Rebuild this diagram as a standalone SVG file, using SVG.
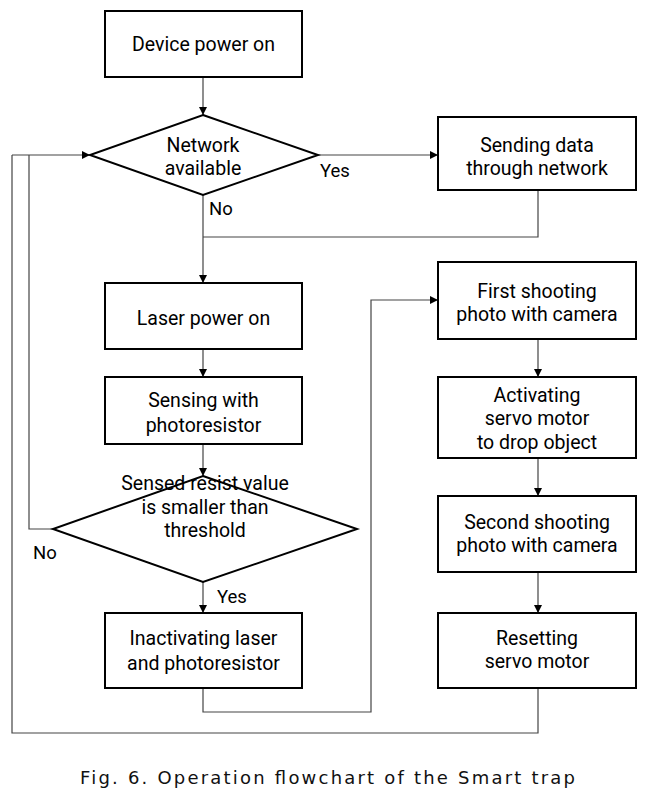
<svg xmlns="http://www.w3.org/2000/svg" width="655" height="794" viewBox="0 0 655 794">
<defs>
<style>
.box{fill:#fff;stroke:#000;stroke-width:2}
.t{font-family:Roboto,"Noto Sans CJK KR",sans-serif;font-size:19.5px;fill:#000;text-anchor:middle}
.lbl{font-family:Roboto,"Noto Sans CJK KR",sans-serif;font-size:18.5px;fill:#000}
.c{fill:none;stroke:#444;stroke-width:1.2}
.cap{font-family:"DejaVu Sans",sans-serif;font-size:18px;fill:#111}
</style>
<marker id="ar" viewBox="0 0 10 10" refX="10" refY="5" markerWidth="8" markerHeight="8" markerUnits="userSpaceOnUse" orient="auto">
<path d="M0,0 L10,5 L0,10 z" fill="#000"/>
</marker>
</defs>
<rect width="655" height="794" fill="#fff"/>
<g id="connectors">
<path class="c" d="M203,77 V115" marker-end="url(#ar)"/>
<path class="c" d="M318,155 H438" marker-end="url(#ar)"/>
<path class="c" d="M203,195 V283" marker-end="url(#ar)"/>
<path class="c" d="M538,190 V237 H203"/>
<path class="c" d="M203,349 V377" marker-end="url(#ar)"/>
<path class="c" d="M203,444 V476" marker-end="url(#ar)"/>
<path class="c" d="M53,529 H29 V155"/>
<path class="c" d="M12,155 H90" marker-end="url(#ar)"/>
<path class="c" d="M203,582 V613" marker-end="url(#ar)"/>
<path class="c" d="M203,688 V712 H371 V300 H438" marker-end="url(#ar)"/>
<path class="c" d="M538,339 V377" marker-end="url(#ar)"/>
<path class="c" d="M538,458 V496" marker-end="url(#ar)"/>
<path class="c" d="M538,572 V613" marker-end="url(#ar)"/>
<path class="c" d="M538,688 V733 H12 V155"/>
<text class="lbl" x="320" y="177">Yes</text>
<text class="lbl" x="209" y="215">No</text>
<text class="lbl" x="33" y="559">No</text>
<text class="lbl" x="217" y="603">Yes</text>
</g>
<g id="n1"><rect class="box" x="105" y="11" width="197" height="66"/><text class="t" x="203.5" y="51">Device power on</text></g>
<g id="n2"><polygon class="box" points="203,115 318,155 203,195 90,155"/><text class="t" x="203" y="152">Network</text><text class="t" x="203" y="175">available</text></g>
<g id="n3"><rect class="box" x="438" y="117" width="198" height="73"/><text class="t" x="537" y="152">Sending data</text><text class="t" x="537" y="175">through network</text></g>
<g id="n4"><rect class="box" x="105" y="283" width="197" height="66"/><text class="t" x="203.5" y="325">Laser power on</text></g>
<g id="n5"><rect class="box" x="105" y="377" width="197" height="67"/><text class="t" x="203.5" y="407">Sensing with</text><text class="t" x="203.5" y="432">photoresistor</text></g>
<g id="n6"><polygon class="box" points="203,476 357,529 203,582 53,529"/><text class="t" x="205" y="490">Sensed resist value</text><text class="t" x="205" y="514">is smaller than</text><text class="t" x="205" y="537">threshold</text></g>
<g id="n7"><rect class="box" x="105" y="613" width="197" height="75"/><text class="t" x="203.5" y="645">Inactivating laser</text><text class="t" x="203.5" y="670">and photoresistor</text></g>
<g id="n8"><rect class="box" x="438" y="262" width="198" height="77"/><text class="t" x="537" y="298">First shooting</text><text class="t" x="537" y="321">photo with camera</text></g>
<g id="n9"><rect class="box" x="438" y="377" width="198" height="81"/><text class="t" x="537" y="402">Activating</text><text class="t" x="537" y="425">servo motor</text><text class="t" x="537" y="449">to drop object</text></g>
<g id="n10"><rect class="box" x="438" y="496" width="198" height="76"/><text class="t" x="537" y="529">Second shooting</text><text class="t" x="537" y="552">photo with camera</text></g>
<g id="n11"><rect class="box" x="438" y="613" width="198" height="75"/><text class="t" x="537" y="645">Resetting</text><text class="t" x="537" y="668">servo motor</text></g>
<text class="cap" x="80" y="784" textLength="495" lengthAdjust="spacing">Fig. 6. Operation flowchart of the Smart trap</text>
</svg>
